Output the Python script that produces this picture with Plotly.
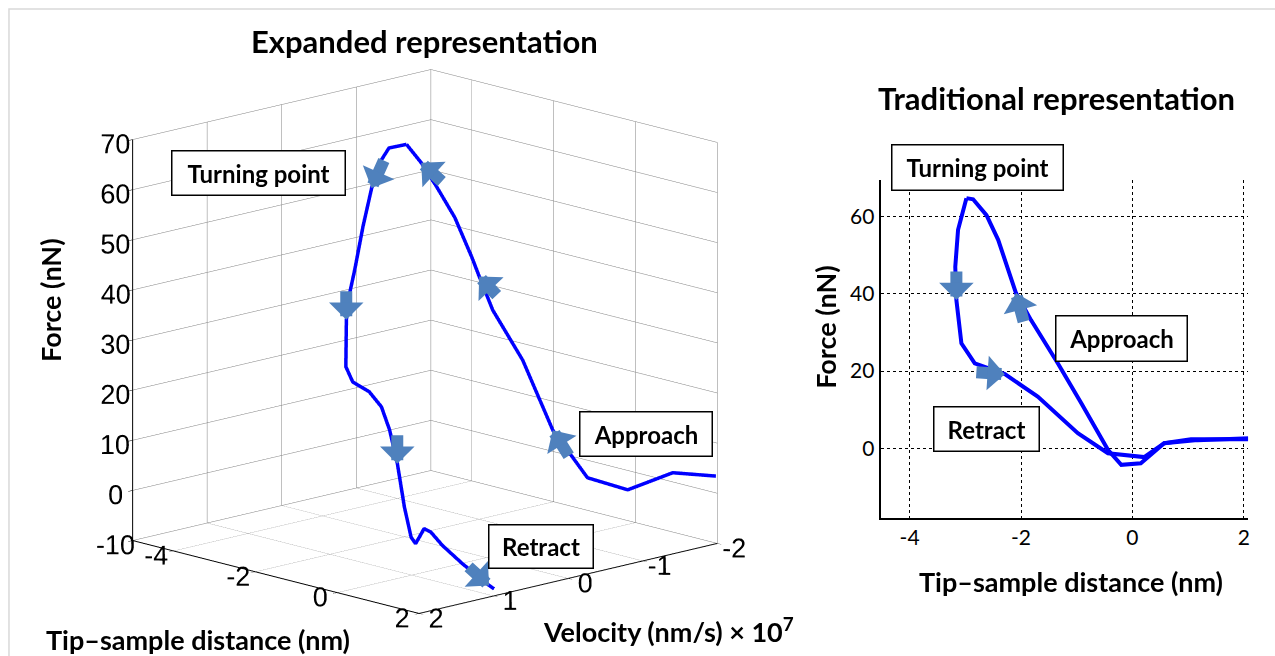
import plotly.graph_objects as go

W, H = 1275, 656

# ---------------- data: expanded (3D) representation ----------------
app3_dist = [2.0, 1.0, -0.1, -0.5, -0.75, -1.0, -1.5, -1.85, -2.05, -2.15, -2.3, -2.55, -2.7, -2.9]
app3_vel = [-1.98, -1.95, -1.95, -1.63, -1.55, -1.44, -1.31, -1.10, -1.03, -0.98, -0.84, -0.73, -0.61, -0.52]
app3_force = [3.5, 2.2, -3.5, -0.8, 3.4, 8.3, 21.7, 31.7, 38.2, 42.2, 50.1, 56.2, 61.0, 64.6]

ret3_dist = [-2.9, -3.0, -3.1, -3.15, -3.18, -3.18, -3.16, -3.13, -3.07, -2.9, -2.5, -2.2,
             -1.8, -1.3, -0.8, -0.4, -0.2, 0.0, 0.3, 0.5, 0.8, 1.2, 1.6, 2.0]
ret3_vel = [-0.52, -0.34, -0.27, -0.19, -0.09, 0.02, 0.10, 0.16, 0.20, 0.20, 0.20, 0.20,
            0.31, 0.48, 0.66, 0.79, 0.84, 0.90, 1.00, 1.02, 1.03, 0.98, 0.84, 0.55]
ret3_force = [64.6, 64.3, 61.4, 56.5, 49.1, 40.9, 36.5, 31.5, 22.4, 19.7, 18.6, 16.2,
              12.8, 7.7, 0.7, -4.0, -4.7, -2.8, -0.1, -0.3, -2.3, -5.3, -9.3, -14.8]

dist3_ticks = [-4, -2, 0, 2]
vel3_ticks = [2, 1, 0, -1, -2]
force3_ticks = [-10, 0, 10, 20, 30, 40, 50, 60, 70]

# ---------------- data: traditional (2D) representation ----------------
app2_dist = [2.1, 1.5, 1.05, 0.57, 0.15, -0.2, -0.44, -0.92, -1.34, -1.82, -2.09, -2.41, -2.62, -2.86, -2.98]
app2_force = [2.3, 2.4, 2.3, 1.3, -3.9, -4.3, -0.4, 11.7, 22.0, 33.2, 40.2, 54.0, 60.4, 64.5, 64.8]
ret2_dist = [-2.98, -3.13, -3.18, -3.16, -3.07, -2.83, -2.29, -1.70, -0.98, -0.44, 0.21, 0.57, 1.17, 2.1]
ret2_force = [64.8, 56.6, 47.0, 38.4, 27.2, 22.0, 19.2, 13.4, 3.9, -1.3, -2.3, 1.3, 2.1, 2.6]

dist2_ticks = [-4, -2, 0, 2]
force2_ticks = [0, 20, 40, 60]

BLUE = "#0000FF"
ARROW = "#4F81BD"
TXT = "Lato"
NUM = "Liberation Sans"

D_RANGE = [-5, 2]
V_RANGE = [-2, 2]
F_RANGE = [-10, 70]


def px(x):
    return x / W


def py(y):
    return 1 - y / H


def tick_txt(vals):
    return [str(v) for v in vals]  # plain hyphen minus, as in the original


fig = go.Figure()

# velocity plotted as -v so that +2 sits at the front corner, as in the original
fig.add_trace(go.Scatter3d(
    x=app3_dist, y=[-v for v in app3_vel], z=app3_force, mode="lines",
    line=dict(color=BLUE, width=7), hoverinfo="skip", showlegend=False))
fig.add_trace(go.Scatter3d(
    x=ret3_dist, y=[-v for v in ret3_vel], z=ret3_force, mode="lines",
    line=dict(color=BLUE, width=7), hoverinfo="skip", showlegend=False))

fig.add_trace(go.Scatter(
    x=app2_dist, y=app2_force, mode="lines", xaxis="x", yaxis="y",
    line=dict(color=BLUE, width=4), hoverinfo="skip", showlegend=False))
fig.add_trace(go.Scatter(
    x=ret2_dist, y=ret2_force, mode="lines", xaxis="x", yaxis="y",
    line=dict(color=BLUE, width=4), hoverinfo="skip", showlegend=False))

axis3 = dict(
    showbackground=False, showgrid=True, gridcolor="#808080", gridwidth=1,
    showline=True, linecolor="black", linewidth=2,
    ticks="outside", tickcolor="black", ticklen=6, tickangle=0,
    tickfont=dict(family=NUM, size=18, color="black"),
    showspikes=False, zeroline=False, title=dict(text=""),
)

d = (0.6994, -0.6717, 0.2445)
k = 1.521
s = 1.315
scene_ann = []

A_W, A_S = 12, 0.48


def arrow3(x, y, z, ax, ay):
    scene_ann.append(dict(
        x=x, y=y, z=z, ax=ax, ay=ay, text="", showarrow=True,
        arrowhead=1, arrowwidth=A_W, arrowsize=A_S, arrowcolor=ARROW))


for i, (ax_, ay_) in {12: (22, 20), 8: (19, 20), 5: (17, 27)}.items():
    arrow3(app3_dist[i], -app3_vel[i], app3_force[i], ax_, ay_)
for i, (ax_, ay_) in {3: (13, -29), 7: (0, -30), 13: (0, -30), 22: (-22, -20)}.items():
    arrow3(ret3_dist[i], -ret3_vel[i], ret3_force[i], ax_, ay_)

fig.update_layout(
    width=W, height=H, margin=dict(l=0, r=0, t=0, b=0),
    paper_bgcolor="white", plot_bgcolor="white",
    scene=dict(
        domain=dict(x=[0, 0.6675], y=[0, 0.959]),
        xaxis=dict(axis3, range=D_RANGE, tickvals=dist3_ticks, ticktext=tick_txt(dist3_ticks)),
        yaxis=dict(axis3, range=[-V_RANGE[1], -V_RANGE[0]], tickvals=[-v for v in vel3_ticks],
                   ticktext=tick_txt(vel3_ticks)),
        zaxis=dict(axis3, range=F_RANGE, tickvals=force3_ticks, ticktext=tick_txt(force3_ticks)),
        aspectmode="manual", aspectratio=dict(x=s, y=s, z=s),
        camera=dict(eye=dict(x=d[0] * k, y=d[1] * k, z=d[2] * k),
                    up=dict(x=0, y=0, z=1), center=dict(x=0, y=0, z=0),
                    projection=dict(type="orthographic")),
        annotations=scene_ann,
    ),
    xaxis=dict(domain=[px(882), px(1250)], range=[-4.52, 2.075], tickvals=dist2_ticks,
               ticktext=tick_txt(dist2_ticks),
               showgrid=True, gridcolor="black", griddash="dot", gridwidth=1,
               showline=True, linecolor="black", linewidth=2, zeroline=False,
               ticks="", tickfont=dict(family=TXT, size=21, color="black"), anchor="y"),
    yaxis=dict(domain=[py(517.7), py(180)], range=[-18, 69.5], tickvals=force2_ticks,
               ticktext=tick_txt(force2_ticks),
               showgrid=True, gridcolor="black", griddash="dot", gridwidth=1,
               showline=True, linecolor="black", linewidth=2, zeroline=False,
               ticks="", tickfont=dict(family=TXT, size=21, color="black"), anchor="x"),
)

ann = []


def label(text, x, y, size, angle=0):
    ann.append(dict(text="<b>%s</b>" % text, x=px(x), y=py(y), xref="paper", yref="paper",
                    showarrow=False, textangle=angle,
                    font=dict(family=TXT, size=size, color="black"),
                    xanchor="center", yanchor="middle"))


def box(text, x, y, w, h):
    ann.append(dict(text="<b>%s</b>" % text, x=px(x), y=py(y), xref="paper", yref="paper",
                    showarrow=False, width=w, height=h, bordercolor="black", borderwidth=1.5,
                    bgcolor="white", borderpad=0,
                    font=dict(family=TXT, size=24, color="black"),
                    xanchor="center", yanchor="middle"))


label("Expanded representation", 425, 41, 31)
label("Traditional representation", 1058, 98, 31)
label("Force (nN)", 50, 300, 27, -90)
label("Tip\u2013sample distance (nm)", 198, 639, 27)
label("Velocity (nm/s) \u00d7 10<sup>7</sup>", 670, 630, 27)
label("Force (nN)", 826, 327, 27, -90)
label("Tip\u2013sample distance (nm)", 1073, 581, 27)

box("Turning point", 259, 173, 172, 43)
box("Approach", 647, 434, 131, 43)
box("Retract", 542, 546, 103, 42)
box("Turning point", 979, 167, 170, 44)
box("Approach", 1123, 338, 130, 44)
box("Retract", 988, 429, 104, 43)


def arrow2(x, y, ax, ay):
    ann.append(dict(x=x, y=y, xref="x", yref="y", ax=ax, ay=ay, text="", showarrow=True,
                    arrowhead=1, arrowwidth=A_W, arrowsize=A_S, arrowcolor=ARROW))


arrow2(ret2_dist[3], ret2_force[3], 0, -30)
arrow2(app2_dist[10], app2_force[10], 8, 30)
arrow2(ret2_dist[6], ret2_force[6], -30, -2)

fig.update_layout(annotations=ann)

fig.add_shape(type="rect", xref="paper", yref="paper", x0=px(9), x1=1.01, y0=-0.01, y1=py(9),
              line=dict(color="#d9d9d9", width=1.5), fillcolor="rgba(0,0,0,0)", layer="below")

fig.write_html("out.html")
